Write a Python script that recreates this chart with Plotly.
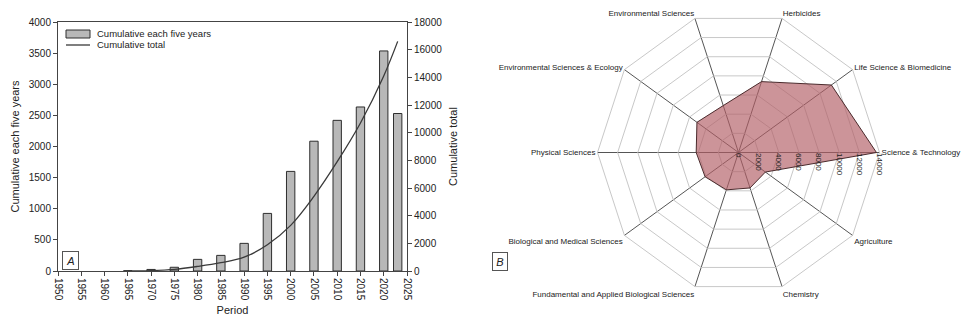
import plotly.graph_objects as go

# Panel A: publications per five-year period and running total
bar_years = [1965, 1970, 1975, 1980, 1985, 1990, 1995, 2000, 2005, 2010, 2015, 2020, 2023]
bar_counts = [5, 25, 60, 187, 251, 444, 925, 1600, 2085, 2420, 2635, 3535, 2530]

curve_years = [1965, 1970, 1975, 1980, 1985, 1990, 1995, 2000, 2005, 2010, 2015, 2020, 2023]
curve_totals = [0, 30, 120, 330, 600, 1000, 1900, 3300, 5400, 7900, 10700, 14100, 16600]

x_ticks = list(range(1950, 2030, 5))

# Panel B: publications by research area
areas = [
    "Science & Technology",
    "Life Science & Biomedicine",
    "Herbicides",
    "Environmental Sciences",
    "Environmental Sciences & Ecology",
    "Physical Sciences",
    "Biological and Medical Sciences",
    "Fundamental and Applied Biological Sciences",
    "Chemistry",
    "Agriculture",
]
area_counts = [13700, 11400, 7400, 4900, 5100, 4200, 4100, 3900, 3700, 3300]
radial_ticks = list(range(0, 16000, 2000))

FONT = "Liberation Sans, Arial, sans-serif"
W, H = 962, 322
BAR_FILL = "#b8b8b8"
BAR_EDGE = "#2e2e2e"
LINE_COL = "#3a3a3a"


def px(x):
    return x / W


def py(y):
    return 1 - y / H


fig = go.Figure()

fig.add_trace(go.Bar(
    x=bar_years, y=bar_counts, width=1.8,
    name="Cumulative each five years", showlegend=False,
    marker=dict(color=BAR_FILL, line=dict(color=BAR_EDGE, width=1)),
    xaxis="x", yaxis="y",
))
fig.add_trace(go.Scatter(
    x=curve_years, y=curve_totals, mode="lines",
    name="Cumulative total", showlegend=False,
    line=dict(color=LINE_COL, width=1.3, shape="spline", smoothing=1.0),
    xaxis="x", yaxis="y2",
))

fig.add_trace(go.Scatterpolar(
    r=area_counts + area_counts[:1],
    theta=areas + areas[:1],
    mode="lines", fill="toself",
    fillcolor="rgba(178,92,100,0.66)",
    line=dict(color="#4a2a2c", width=1),
    showlegend=False,
))

axis_common = dict(
    showgrid=False, zeroline=False, ticks="outside", ticklen=4,
    tickcolor="#444", linecolor="#444", linewidth=1, automargin=False,
    tickfont=dict(size=10, color="#222", family=FONT),
)

# compact legend for panel A, drawn in paper coordinates
legend_shapes = [
    dict(type="rect", xref="paper", yref="paper",
         x0=px(66), x1=px(90), y0=py(38), y1=py(30),
         fillcolor=BAR_FILL, line=dict(color=BAR_EDGE, width=1)),
    dict(type="line", xref="paper", yref="paper",
         x0=px(66), x1=px(90), y0=py(45), y1=py(45),
         line=dict(color=LINE_COL, width=1.3)),
]
legend_labels = [
    dict(text="Cumulative each five years", x=px(95), y=py(34)),
    dict(text="Cumulative total", x=px(95), y=py(45)),
]
annotations = [
    dict(xref="paper", yref="paper", xanchor="left", yanchor="middle",
         showarrow=False, font=dict(size=9.5, family=FONT, color="#222"), **lab)
    for lab in legend_labels
]
annotations += [
    dict(text="<i>A</i>", x=px(70), y=py(260), xref="paper", yref="paper",
         xanchor="center", yanchor="middle",
         showarrow=False, font=dict(size=11, family=FONT, color="#222"),
         bordercolor="#555", borderwidth=1, borderpad=2, bgcolor="white",
         width=11, height=13),
    dict(text="<i>B</i>", x=px(500), y=py(261), xref="paper", yref="paper",
         xanchor="center", yanchor="middle",
         showarrow=False, font=dict(size=11, family=FONT, color="#222"),
         bordercolor="#555", borderwidth=1, borderpad=2, bgcolor="white",
         width=10, height=13),
]

fig.update_layout(
    width=W, height=H,
    margin=dict(l=0, r=0, t=0, b=0, autoexpand=False),
    paper_bgcolor="white", plot_bgcolor="white",
    font=dict(family=FONT, color="#222"),
    showlegend=False,
    xaxis=dict(
        domain=[px(58), px(407)], range=[1950, 2025],
        tickvals=x_ticks, tickangle=90, showline=True, mirror=True,
        title=dict(text="Period", font=dict(size=11, family=FONT), standoff=6),
        **axis_common,
    ),
    yaxis=dict(
        domain=[py(271), py(22)], range=[0, 4000], dtick=500, showline=True,
        tickformat="d",
        title=dict(text="Cumulative each five years", font=dict(size=11, family=FONT), standoff=6),
        **axis_common,
    ),
    yaxis2=dict(
        overlaying="y", side="right", anchor="x", range=[0, 18000], dtick=2000,
        showline=True, tickformat="d",
        title=dict(text="Cumulative total", font=dict(size=11, family=FONT), standoff=8),
        **axis_common,
    ),
    polar=dict(
        domain=dict(x=[px(597.5), px(879.5)], y=[py(293.5), py(11.5)]),
        bgcolor="white",
        gridshape="linear",
        angularaxis=dict(
            rotation=0, direction="counterclockwise",
            showline=True, linecolor="#c8c8c8", linewidth=1,
            gridcolor="#555555", gridwidth=1.2,
            ticks="", tickfont=dict(size=8, family=FONT, color="#222"),
        ),
        radialaxis=dict(
            range=[0, 14000], tickvals=radial_ticks, angle=0, tickformat="d",
            showline=False, ticks="", tickangle=90,
            gridcolor="#c8c8c8", gridwidth=1,
            tickfont=dict(size=8, family=FONT, color="#222"),
        ),
    ),
    shapes=legend_shapes,
    annotations=annotations,
)

fig.write_html("out.html")
